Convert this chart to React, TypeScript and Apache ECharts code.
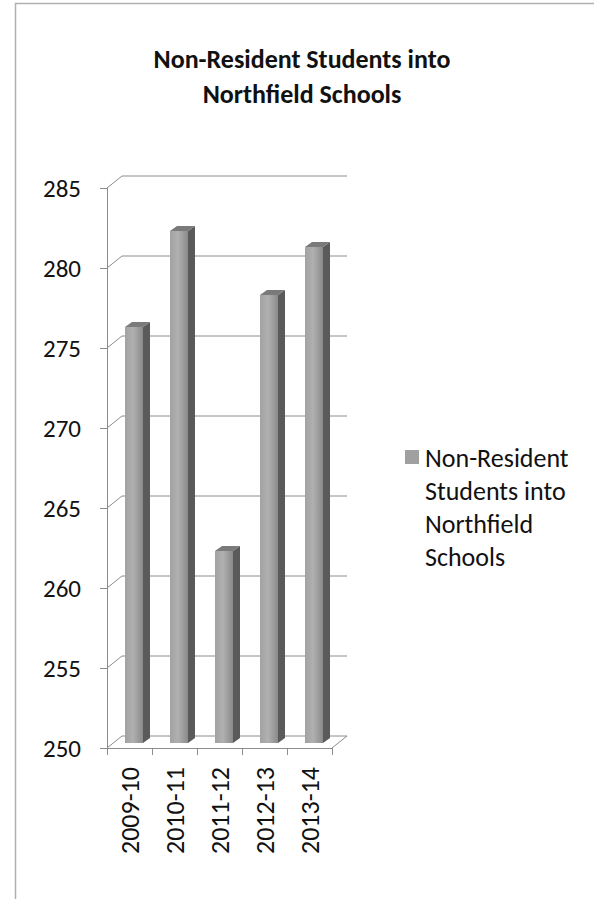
import React, { useEffect, useRef } from "react";
import * as echarts from "echarts";

const TITLE_LINES = ["Non-Resident Students into", "Northfield Schools"];
const SERIES_NAME = "Non-Resident Students into Northfield Schools";
const LEGEND_LINES = ["Non-Resident", "Students into", "Northfield", "Schools"];
const CATEGORIES = ["2009-10", "2010-11", "2011-12", "2012-13", "2013-14"];
const VALUES = [276, 282, 262, 278, 281];
const Y_MIN = 250;
const Y_MAX = 285;
const Y_STEP = 5;
const Y_TICKS = [250, 255, 260, 265, 270, 275, 280, 285];

const FONT = "Carlito, 'Noto Sans', 'Open Sans', sans-serif";
const LINE = "#8c8c8c";
const DEPTH_X = 15;
const DEPTH_Y = -12;

export default function App() {
  const ref = useRef<HTMLDivElement>(null);

  useEffect(() => {
    if (!ref.current) return;
    const chart = echarts.init(ref.current, null, { renderer: "svg" });

    const wallItem = (params: any, api: any) => {
      const v = api.value(0);
      const bw = api.size([1, 0])[0];
      const p0 = api.coord([0, v]);
      const p1 = api.coord([CATEGORIES.length - 1, v]);
      const x0 = p0[0] - bw / 2;
      const x1 = p1[0] + bw / 2;
      const y = p0[1];
      const children: any[] = [
        {
          type: "line",
          shape: { x1: x0 + DEPTH_X, y1: y + DEPTH_Y, x2: x1 + DEPTH_X, y2: y + DEPTH_Y },
          style: { stroke: LINE, lineWidth: 1 },
        },
        {
          type: "line",
          shape: { x1: x0, y1: y, x2: x0 + DEPTH_X, y2: y + DEPTH_Y },
          style: { stroke: LINE, lineWidth: 1 },
        },
      ];
      if (v === Y_MIN) {
        children.push({
          type: "line",
          shape: { x1: x1, y1: y, x2: x1 + DEPTH_X, y2: y + DEPTH_Y },
          style: { stroke: LINE, lineWidth: 1 },
        });
      }
      return { type: "group", children };
    };

    const barItem = (params: any, api: any) => {
      const idx = api.value(0);
      const val = api.value(1);
      const top = api.coord([idx, val]);
      const base = api.coord([idx, Y_MIN]);
      const c = top[0];
      const off = -5;
      const L = c - 4.5;
      const W = 18;
      const sdx = 7;
      const sdy = -5;
      const t = top[1] + off;
      const b = base[1] + off;
      return {
        type: "group",
        children: [
          {
            type: "rect",
            shape: { x: L, y: t, width: W, height: b - t },
            style: {
              fill: new echarts.graphic.LinearGradient(0, 0, 1, 0, [
                { offset: 0, color: "#a2a2a2" },
                { offset: 0.45, color: "#b0b0b0" },
                { offset: 1, color: "#8a8a8a" },
              ]),
            },
          },
          {
            type: "polygon",
            shape: {
              points: [
                [L + W, t],
                [L + W + sdx, t + sdy],
                [L + W + sdx, b + sdy],
                [L + W, b],
              ],
            },
            style: { fill: "#5a5a5a" },
          },
          {
            type: "polygon",
            shape: {
              points: [
                [L, t],
                [L + W, t],
                [L + W + sdx, t + sdy],
                [L + sdx, t + sdy],
              ],
            },
            style: { fill: "#7a7a7a" },
          },
        ],
      };
    };

    chart.setOption({
      animation: false,
      backgroundColor: "#ffffff",
      title: {
        text: TITLE_LINES.join("\n"),
        left: 297,
        top: 36,
        textAlign: "center",
        textStyle: {
          fontFamily: FONT,
          fontWeight: "bold",
          fontSize: 26,
          lineHeight: 35,
          color: "#111111",
        },
      },
      grid: { left: 107, top: 188, width: 225, height: 560, containLabel: false },
      xAxis: {
        type: "category",
        data: CATEGORIES,
        axisLine: { show: true, lineStyle: { color: LINE, width: 1 } },
        axisTick: { show: true, length: 7, lineStyle: { color: LINE } },
        axisLabel: {
          rotate: 90,
          margin: 19,
          fontFamily: FONT,
          fontSize: 26,
          color: "#111111",
        },
        splitLine: { show: false },
      },
      yAxis: {
        type: "value",
        min: Y_MIN,
        max: Y_MAX,
        interval: Y_STEP,
        axisLine: { show: true, lineStyle: { color: LINE, width: 1 } },
        axisTick: { show: true, length: 7, lineStyle: { color: LINE } },
        axisLabel: {
          margin: 26,
          fontFamily: FONT,
          fontSize: 25,
          color: "#111111",
        },
        splitLine: { show: false },
      },
      series: [
        {
          type: "custom",
          name: "walls",
          silent: true,
          z: 1,
          renderItem: wallItem,
          encode: { y: 0 },
          data: Y_TICKS.map((v) => [v]),
        },
        {
          type: "custom",
          name: SERIES_NAME,
          z: 5,
          renderItem: barItem,
          encode: { x: 0, y: 1 },
          data: VALUES.map((v, i) => [i, v]),
        },
      ],
      graphic: [
        {
          type: "rect",
          shape: { x: 15.5, y: 3.5, width: 620, height: 940 },
          style: { fill: "none", stroke: "#b0b0b0", lineWidth: 1.5 },
          silent: true,
        },
        {
          type: "rect",
          shape: { x: 405, y: 450, width: 14, height: 14 },
          style: { fill: "#a0a0a0" },
        },
        {
          type: "text",
          x: 425,
          y: 441,
          style: {
            text: LEGEND_LINES.join("\n"),
            fontFamily: FONT,
            fontSize: 26,
            lineHeight: 33,
            fill: "#111111",
            textVerticalAlign: "top",
          },
        },
      ],
    });

    return () => chart.dispose();
  }, []);

  return (
    <div
      ref={ref}
      style={{ position: "absolute", left: 0, top: 0, width: 594, height: 899 }}
    />
  );
}
